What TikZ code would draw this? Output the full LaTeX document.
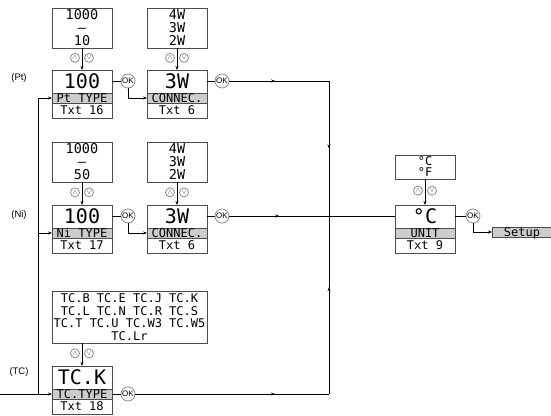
\documentclass[tikz,border=0pt]{standalone}
\usepackage{fontspec}
\setmainfont{Liberation Sans}
\newfontfamily\lcd{DejaVu Sans Mono}
\usetikzlibrary{arrows.meta,positioning,calc,decorations.markings}
\definecolor{boxline}{gray}{0.3}
\definecolor{bandfill}{gray}{0.8}
\definecolor{okline}{gray}{0.55}
\tikzset{
  val/.style={draw=boxline, minimum width=60pt, minimum height=23pt, inner sep=0pt, outer sep=0pt,
    text height=14pt, text depth=0pt, font=\lcd\fontsize{20}{20}\selectfont},
  band/.style={draw=boxline, fill=bandfill, minimum width=60pt, minimum height=10pt, inner sep=0pt, outer sep=0pt,
    text height=8pt, text depth=0pt, font=\lcd\fontsize{12}{12}\selectfont},
  txt/.style={draw=boxline, minimum width=60pt, minimum height=15pt, inner sep=0pt, outer sep=0pt,
    text height=8pt, text depth=0pt, font=\lcd\fontsize{12}{12}\selectfont},
  lst/.style={draw=boxline, minimum width=60pt, minimum height=40pt, inner sep=0pt, outer sep=0pt,
    align=center, font=\lcd\fontsize{13.5}{13}\selectfont},
  ok/.style={circle, draw=okline, minimum size=14pt, inner sep=0pt, font=\fontsize{8}{8}\selectfont},
  updn/.style={circle, draw=okline, minimum size=9pt, inner sep=0pt, text=black!70, font=\fontsize{7}{7}\selectfont},
  lbl/.style={font=\fontsize{9.5}{9.5}\selectfont},
  midarr/.style={postaction={decorate}, decoration={markings, mark=at position #1 with {\arrow{>}}}}
}
\begin{document}
\begin{tikzpicture}[x=1pt, y=-1pt, line width=0.8pt, >={Stealth[length=4pt,width=3pt]}]
\useasboundingbox (0,0) rectangle (551,415);

% Pt row
\node[lbl] (lpt) at (19,78) {(Pt)};
\node[lst, anchor=north west] (ptlst) at (52,8) {1000\\–\\10};
\node[val, anchor=north west] (ptval) at (52,70) {100};
\node[band, below=0pt of ptval] (pttype) {Pt TYPE};
\node[txt, below=0pt of pttype] (pttxt) {Txt 16};
\node[lst, anchor=north west] (cnlst) at (147,8) {4W\\3W\\2W};
\node[val, anchor=north west] (cnval) at (147,70) {3W};
\node[band, below=0pt of cnval] (cntype) {CONNEC.};
\node[txt, below=0pt of cntype] (cntxt) {Txt 6};
\node[ok] (ok1) at (128,81) {OK};
\node[ok] (ok2) at (222,81) {OK};

% Ni row
\node[lbl] (lni) at (19,215) {(Ni)};
\node[lst, anchor=north west] (nilst) at (52,142) {1000\\–\\50};
\node[val, anchor=north west] (nival) at (52,205) {100};
\node[band, below=0pt of nival] (nitype) {Ni TYPE};
\node[txt, below=0pt of nitype] (nitxt) {Txt 17};
\node[lst, anchor=north west] (cn2lst) at (147,142) {4W\\3W\\2W};
\node[val, anchor=north west] (cn2val) at (147,205) {3W};
\node[band, below=0pt of cn2val] (cn2type) {CONNEC.};
\node[txt, below=0pt of cn2type] (cn2txt) {Txt 6};
\node[ok] (ok3) at (128,216) {OK};
\node[ok] (ok4) at (222,216) {OK};

% TC row
\node[lbl] (ltc) at (19,372) {(TC)};
\node[lst, anchor=north west, minimum width=155pt, minimum height=52pt, font=\lcd\fontsize{12}{12.5}\selectfont]
  (tclst) at (52,291) {TC.B TC.E TC.J TC.K\\TC.L TC.N TC.R TC.S\\TC.T TC.U TC.W3 TC.W5\\TC.Lr};
\node[val, anchor=north west] (tcval) at (52,366) {TC.K};
\node[band, below=0pt of tcval] (tctype) {TC.TYPE};
\node[txt, below=0pt of tctype] (tctxt) {Txt 18};
\node[ok] (ok5) at (128,394) {OK};

% unit
\node[lst, anchor=north west, minimum height=24pt, font=\lcd\fontsize{12}{11}\selectfont] (unlst) at (395,155) {°C\\°F};
\node[val, anchor=north west] (unval) at (395,205) {°C};
\node[band, below=0pt of unval] (untype) {UNIT};
\node[txt, below=0pt of untype] (untxt) {Txt 9};
\node[ok] (ok6) at (473,216) {OK};
\node[band, anchor=west] (setup) at (492,232) {Setup};

% up/down keys
\foreach \l/\v in {ptlst/ptval, cnlst/cnval, nilst/nival, cn2lst/cn2val, tclst/tcval, unlst/unval} {
  \draw[->] (\v.north |- \l.south) -- (\v.north);
  \node[updn] at ([xshift=-7pt]$(\v.north |- \l.south)!0.45!(\v.north)$) {$\wedge$};
  \node[updn] at ([xshift=7pt]$(\v.north |- \l.south)!0.45!(\v.north)$) {$\vee$};
}

\coordinate (in) at (0,0);
\coordinate (lft) at (38,0);
\coordinate (j1) at (329,81);
\coordinate (j2) at (329,216);

% input and sensor choice
\draw[->] (in |- tctype.west) -- (tctype.west);
\draw (lft |- tctype.west) -- (lft |- pttype.west);
\draw[->] (lft |- pttype.west) -- (pttype.west);
\draw[->] (lft |- nitype.west) -- (nitype.west);

% OK keys
\draw (ok1 -| ptval.east) -- (ok1);
\draw[->] (ok1.south) |- (cntype.west);
\draw (ok3 -| nival.east) -- (ok3);
\draw[->] (ok3.south) |- (cn2type.west);
\draw (ok2 -| cnval.east) -- (ok2);
\draw (ok4 -| cn2val.east) -- (ok4);
\draw (tctype.east) -- (ok5);

\draw[midarr=0.46] (ok2) -- (j1);
\draw[midarr=0.5] (j1) -- (j2);
\draw[midarr=0.5] (ok4) -- (j2);
\draw[midarr=0.72] (ok5) -- (ok5 -| j2);
\draw[midarr=0.6] (ok5 -| j2) -- (j2);
\draw (j2) -- (j2 -| unval.west);

\draw (ok6 -| unval.east) -- (ok6);
\draw[->] (ok6.south) |- (setup.west);
\end{tikzpicture}
\end{document}
